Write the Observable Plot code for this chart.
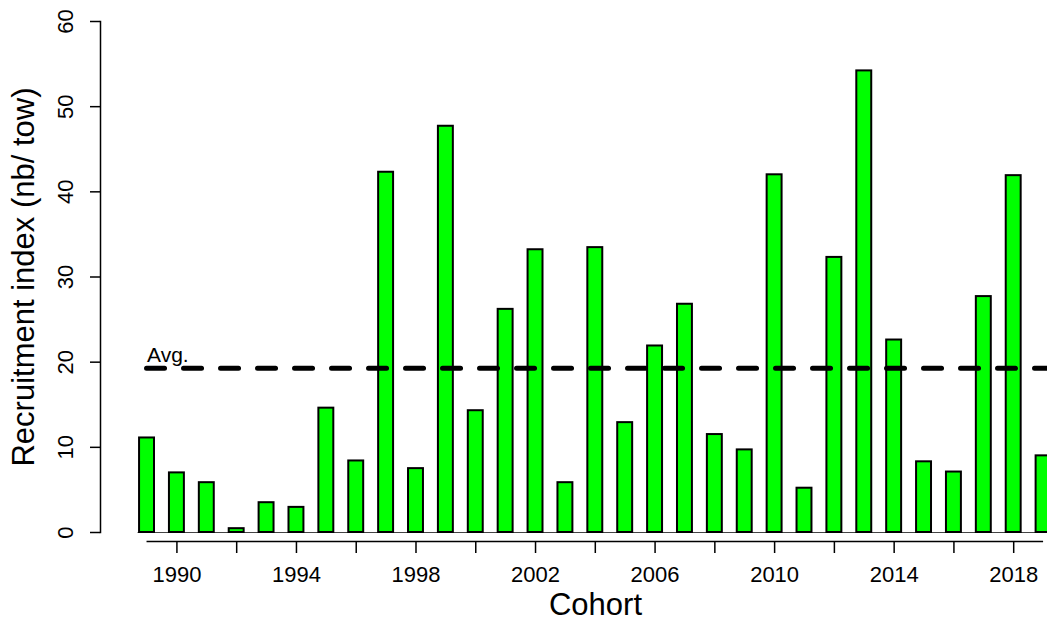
<!DOCTYPE html>
<html>
<head>
<meta charset="utf-8">
<script src="https://cdn.jsdelivr.net/npm/d3@7"></script>
<script src="https://cdn.jsdelivr.net/npm/@observablehq/plot@0.6"></script>
<style>
  html, body { margin: 0; padding: 0; background: #fff; overflow: hidden; }
  #chart { width: 1047px; height: 623px; overflow: hidden; }
</style>
</head>
<body>
<div id="chart"></div>
<script>
const years = [1989, 1990, 1991, 1992, 1993, 1994, 1995, 1996, 1997, 1998,
               1999, 2000, 2001, 2002, 2003, 2004, 2005, 2006, 2007, 2008,
               2009, 2010, 2011, 2012, 2013, 2014, 2015, 2016, 2017, 2018, 2019];
const recruitment = [11.1, 7.0, 5.85, 0.45, 3.5, 2.95, 14.6, 8.4, 42.3, 7.5,
                     47.7, 14.3, 26.2, 33.2, 5.85, 33.45, 12.9, 21.9, 26.8, 11.5,
                     9.7, 42.0, 5.2, 32.3, 54.2, 22.6, 8.3, 7.1, 27.7, 41.9, 9.0];
const yTicks = [0, 10, 20, 30, 40, 50, 60];
const xTicks = [1990, 1992, 1994, 1996, 1998, 2000, 2002, 2004, 2006, 2008,
                2010, 2012, 2014, 2016, 2018];
const xTickLabels = [1990, 1994, 1998, 2002, 2006, 2010, 2014, 2018];
const avgLabel = "Avg.";
const yTitle = "Recruitment index (nb/ tow)";
const xTitle = "Cohort";

const data = years.map((year, i) => ({year, value: recruitment[i]}));
const avg = d3.mean(recruitment);
const first = years[0], last = years[years.length - 1];

const font = "Liberation Sans, Arial, Helvetica, sans-serif";

const chart = Plot.plot({
  width: 1047,
  height: 623,
  marginLeft: 100,
  marginRight: -43,
  marginTop: 21,
  marginBottom: 91,
  style: {fontFamily: font, background: "#fff", color: "#000"},
  x: {domain: [1987.443, 2020.57], axis: null},
  y: {domain: [0, 60], axis: null},
  marks: [
    // baseline at zero
    Plot.ruleY([0], {x1: first - 0.3, x2: last + 1, stroke: "#444", strokeWidth: 1}),
    // bars
    Plot.rectY(data, {x1: d => d.year - 0.25, x2: d => d.year + 0.25, y1: 0, y2: "value",
                      fill: "#00FF00", stroke: "#000", strokeWidth: 2}),
    // average line
    Plot.ruleY([avg], {x1: first, x2: last + 1, stroke: "#000", strokeWidth: 5,
                       strokeDasharray: "18,19", strokeLinecap: "round"}),
    Plot.text([avgLabel], {x: first, y: avg, text: d => d, textAnchor: "start",
                           lineAnchor: "bottom", dy: -6, fontSize: 21, fill: "#000"}),
    // y axis
    Plot.frame({anchor: "left", stroke: "#000", strokeWidth: 1.5}),
    Plot.axisY({ticks: yTicks, tickSize: 10, tickFormat: () => "", label: null, stroke: "#000", strokeWidth: 1.5}),
    Plot.text(yTicks, {y: d => d, text: d => String(d), frameAnchor: "left", dx: -28,
                       rotate: -90, textAnchor: "middle", lineAnchor: "bottom", fontSize: 22, fill: "#000"}),
    Plot.text([yTitle], {text: d => d, frameAnchor: "left", dx: -67, rotate: -90,
                         textAnchor: "middle", lineAnchor: "bottom", fontSize: 31, fill: "#000"}),
    // x axis
    Plot.ruleY([0], {x1: first, x2: last, dy: 9, stroke: "#000", strokeWidth: 1.5}),
    Plot.axisX({ticks: xTicks, tickSize: 12, dy: 9, tickFormat: () => "", label: null, stroke: "#000", strokeWidth: 1.5}),
    Plot.text(xTickLabels, {x: d => d, text: d => String(d), frameAnchor: "bottom", dy: 49,
                            lineAnchor: "bottom", fontSize: 22, fill: "#000"}),
    Plot.text([xTitle], {text: d => d, frameAnchor: "bottom", dy: 82,
                         lineAnchor: "bottom", fontSize: 31, fill: "#000"})
  ]
});
document.getElementById("chart").appendChild(chart);
</script>
</body>
</html>
